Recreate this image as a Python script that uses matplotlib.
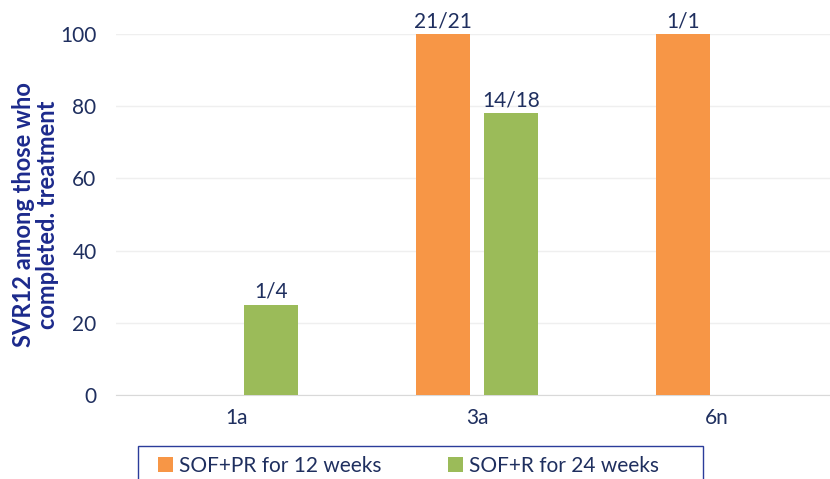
import numpy as np
import matplotlib.pyplot as plt
from matplotlib.patches import Rectangle

plt.rcParams['font.family'] = ['Lato', 'DejaVu Sans']

genotypes = ['1a', '3a', '6n']
sof_pr_12 = [np.nan, 100, 100]
sof_r_24 = [25, 78, np.nan]
pr_labels = ['', '21/21', '1/1']
r_labels = ['1/4', '14/18', '']

navy = '#1F2F5F'
x = np.arange(len(genotypes))
w = 0.225
off = 0.142

fig = plt.figure(figsize=(8.3, 4.79), dpi=100)
ax = fig.add_axes([116/830, 84/479, 714/830, 361/479])

b1 = ax.bar(x - off, sof_pr_12, w, color='#F79646', label='SOF+PR for 12 weeks', zorder=3)
b2 = ax.bar(x + off, sof_r_24, w, color='#9BBB59', label='SOF+R for 24 weeks', zorder=3)
ax.bar_label(b1, labels=pr_labels, padding=2, fontsize=15, color=navy)
ax.bar_label(b2, labels=r_labels, padding=2, fontsize=15, color=navy)

ax.set_xlim(-0.504, 2.471)
ax.set_ylim(0, 100)
ax.set_yticks([0, 20, 40, 60, 80, 100])
ax.set_xticks(x)
ax.set_xticklabels(genotypes)
ax.tick_params(axis='both', length=0, labelsize=15, colors=navy)
ax.tick_params(axis='x', pad=9)
ax.tick_params(axis='y', pad=14)
ax.yaxis.grid(True, color='#EFEFEF', linewidth=1, zorder=0)
ax.set_axisbelow(True)
for s in ['top', 'right', 'left']:
    ax.spines[s].set_visible(False)
ax.spines['bottom'].set_color('#D9D9D9')

ax.set_ylabel('SVR12 among those who\ncompleted. treatment', fontsize=17,
              fontweight='bold', color='#1C2A8C', labelpad=1, linespacing=1.05)

# legend box (cut by the bottom edge, as in the original)
fig.patches.append(Rectangle((138/830, -0.02), 565/830, (479-446)/479 + 0.02,
                             transform=fig.transFigure, fill=False,
                             edgecolor='#2B3C9A', linewidth=1))
fig.legend(loc='center left', bbox_to_anchor=(158/830, 1 - 466/479), ncol=2,
           fontsize=15, frameon=False, handlelength=0.7, handleheight=0.7,
           handletextpad=0.3, columnspacing=3.2, borderpad=0, borderaxespad=0,
           labelcolor=navy)

fig.savefig('out.png', dpi=100)
